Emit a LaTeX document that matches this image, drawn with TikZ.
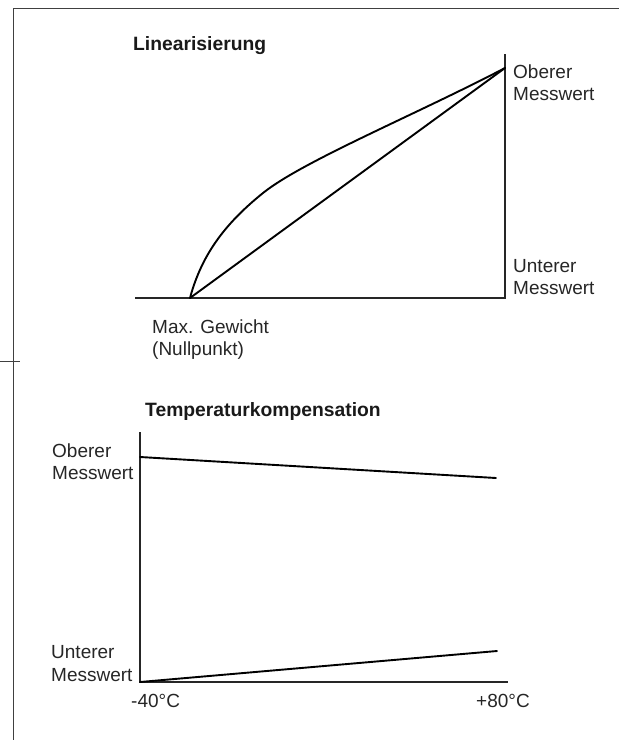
\documentclass[tikz,border=0pt]{standalone}
\usepackage{fontspec}
\setmainfont{Liberation Sans}
\begin{document}
\begin{tikzpicture}[x=1pt,y=-1pt,
  framestyle/.style={draw=black!75,line width=1pt},
  axis/.style={draw=black!85,line width=1.6pt},
  curve/.style={draw=black,line width=1.9pt,line join=round,line cap=round},
  lbl/.style={inner sep=0pt,anchor=base west,text=black!85,font=\fontsize{19}{22}\selectfont},
  ttl/.style={inner sep=0pt,anchor=base west,text=black!90,font=\fontsize{19.3}{22}\selectfont\bfseries}]
\useasboundingbox (0,0) rectangle (619,740);

% outer frame lines
\coordinate (fTR) at (619,8);
\coordinate (fTL) at (13,8);
\coordinate (fBL) at (13,740);
\coordinate (tickL) at (0,361);
\coordinate (tickR) at (20,361);
\draw[framestyle] (fTR) -- (fTL) -- (fBL);
\draw[framestyle] (tickL) -- (tickR);

% ---- Linearisierung ----
\node[ttl] (t1) at (133,50) {Linearisierung};
\coordinate (aXL) at (135,298);
\coordinate (aO) at (505,298);
\coordinate (aYT) at (505,54);
\draw[axis] (aXL) -- (aO) -- (aYT);

\coordinate (zero) at (190,298);
\coordinate (mid) at (263,193);
\coordinate (top) at (505,68);
\draw[curve] (zero) .. controls (202,253) and (227,222) .. (mid)
                    .. controls (303,161) and (415,115) .. (top);
\draw[curve] (zero) -- (top);

\node[lbl] (ob1) at (513,78) {Oberer};
\node[lbl] (ob2) at (513,100) {Messwert};
\node[lbl] (un1) at (513,272) {Unterer};
\node[lbl] (un2) at (513,294) {Messwert};
\node[lbl] (mx1) at (152,333) {Max. Gewicht};
\node[lbl] (mx2) at (152,355) {(Nullpunkt)};

% ---- Temperaturkompensation ----
\node[ttl] (t2) at (145,416) {Temperaturkompensation};
\coordinate (bYT) at (140,432);
\coordinate (bO) at (140,682);
\coordinate (bXR) at (508,682);
\draw[axis] (bYT) -- (bO) -- (bXR);

\coordinate (hiL) at (140,457);
\coordinate (hiR) at (496,478);
\coordinate (loL) at (140,682);
\coordinate (loR) at (497,651);
\draw[curve] (hiL) -- (hiR);
\draw[curve] (loL) -- (loR);

\node[lbl] (bo1) at (52,457) {Oberer};
\node[lbl] (bo2) at (52,479) {Messwert};
\node[lbl] (bu1) at (51,658) {Unterer};
\node[lbl] (bu2) at (51,681) {Messwert};
\node[lbl] (tm1) at (131,707) {-40°C};
\node[lbl] (tm2) at (476,707) {+80°C};
\end{tikzpicture}
\end{document}
